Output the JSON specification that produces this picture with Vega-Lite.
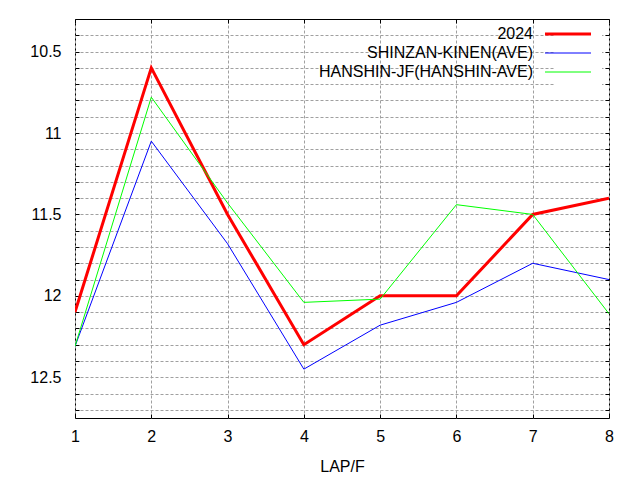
{
  "$schema": "https://vega.github.io/schema/vega-lite/v6.json",
  "width": 534,
  "height": 399,
  "autosize": {"type": "none"},
  "padding": {"left": 75, "top": 19, "right": 31, "bottom": 62},
  "background": "white",
  "config": {
    "view": {"stroke": "black", "strokeWidth": 1},
    "font": "Liberation Sans",
    "axis": {
      "domain": false,
      "labelFont": "Liberation Sans",
      "labelFontSize": 16,
      "labelColor": "black",
      "titleFont": "Liberation Sans",
      "titleFontSize": 16,
      "titleFontWeight": "normal",
      "titleColor": "black",
      "tickColor": "black",
      "tickSize": -4,
      "gridColor": "#a0a0a0",
      "gridDash": [3, 2],
      "gridWidth": 1
    },
    "legend": {
      "title": null,
      "orient": "none",
      "legendX": 480,
      "legendY": 2,
      "symbolType": "M-5,0H5",
      "symbolSize": 84.64,
      "labelAlign": "right",
      "labelOffset": -43,
      "labelFontSize": 16,
      "labelFont": "Liberation Sans",
      "labelColor": "black",
      "labelLimit": 400,
      "rowPadding": 3,
      "padding": 5,
      "fillColor": "white",
      "strokeColor": null
    }
  },
  "data": {
    "values": [
      {"lap": 1, "time": 12.1, "series": "2024"},
      {"lap": 2, "time": 10.6, "series": "2024"},
      {"lap": 3, "time": 11.5, "series": "2024"},
      {"lap": 4, "time": 12.3, "series": "2024"},
      {"lap": 5, "time": 12.0, "series": "2024"},
      {"lap": 6, "time": 12.0, "series": "2024"},
      {"lap": 7, "time": 11.5, "series": "2024"},
      {"lap": 8, "time": 11.4, "series": "2024"},
      {"lap": 1, "time": 12.31, "series": "SHINZAN-KINEN(AVE)"},
      {"lap": 2, "time": 11.05, "series": "SHINZAN-KINEN(AVE)"},
      {"lap": 3, "time": 11.68, "series": "SHINZAN-KINEN(AVE)"},
      {"lap": 4, "time": 12.45, "series": "SHINZAN-KINEN(AVE)"},
      {"lap": 5, "time": 12.18, "series": "SHINZAN-KINEN(AVE)"},
      {"lap": 6, "time": 12.04, "series": "SHINZAN-KINEN(AVE)"},
      {"lap": 7, "time": 11.8, "series": "SHINZAN-KINEN(AVE)"},
      {"lap": 8, "time": 11.9, "series": "SHINZAN-KINEN(AVE)"},
      {"lap": 1, "time": 12.31, "series": "HANSHIN-JF(HANSHIN-AVE)"},
      {"lap": 2, "time": 10.78, "series": "HANSHIN-JF(HANSHIN-AVE)"},
      {"lap": 3, "time": 11.43, "series": "HANSHIN-JF(HANSHIN-AVE)"},
      {"lap": 4, "time": 12.04, "series": "HANSHIN-JF(HANSHIN-AVE)"},
      {"lap": 5, "time": 12.02, "series": "HANSHIN-JF(HANSHIN-AVE)"},
      {"lap": 6, "time": 11.44, "series": "HANSHIN-JF(HANSHIN-AVE)"},
      {"lap": 7, "time": 11.5, "series": "HANSHIN-JF(HANSHIN-AVE)"},
      {"lap": 8, "time": 12.11, "series": "HANSHIN-JF(HANSHIN-AVE)"}
    ]
  },
  "resolve": {"axis": {"x": "independent", "y": "independent"}},
  "layer": [
    {
      "mark": {"type": "line", "clip": true},
      "encoding": {
        "x": {
          "field": "lap", "type": "quantitative",
          "scale": {"domain": [1, 8], "nice": false, "zero": false},
          "axis": {
            "orient": "bottom",
            "title": "LAP/F",
            "values": [1, 2, 3, 4, 5, 6, 7, 8],
            "format": "d",
            "grid": true,
            "labelPadding": 14,
            "titlePadding": 14,
            "labelFlush": false
          }
        },
        "y": {
          "field": "time", "type": "quantitative",
          "scale": {"domain": [10.3, 12.75], "nice": false, "zero": false, "reverse": true},
          "axis": {
            "orient": "left",
            "title": null,
            "values": [10.4, 10.5, 10.6, 10.7, 10.8, 10.9, 11, 11.1, 11.2, 11.3, 11.4, 11.5, 11.6, 11.7, 11.8, 11.9, 12, 12.1, 12.2, 12.3, 12.4, 12.5, 12.6, 12.7],
            "labelExpr": "round(datum.value*10) % 5 == 0 ? '' + datum.value : ''",
            "grid": true,
            "labelPadding": 18,
            "labelFlush": false
          }
        },
        "color": {
          "field": "series", "type": "nominal",
          "scale": {
            "domain": ["2024", "SHINZAN-KINEN(AVE)", "HANSHIN-JF(HANSHIN-AVE)"],
            "range": ["#ff0000", "#0000ff", "#00ff00"]
          },
          "legend": {}
        },
        "strokeWidth": {
          "field": "series", "type": "nominal",
          "scale": {
            "type": "ordinal",
            "domain": ["2024", "SHINZAN-KINEN(AVE)", "HANSHIN-JF(HANSHIN-AVE)"],
            "range": [3, 1, 1]
          },
          "legend": {}
        }
      }
    },
    {
      "mark": {"type": "point", "opacity": 0},
      "encoding": {
        "x": {
          "field": "lap", "type": "quantitative",
          "axis": {"orient": "top", "title": null, "labels": false, "grid": false, "values": [1, 2, 3, 4, 5, 6, 7, 8]}
        },
        "y": {
          "field": "time", "type": "quantitative",
          "axis": {"orient": "right", "title": null, "labels": false, "grid": false,
            "values": [10.4, 10.5, 10.6, 10.7, 10.8, 10.9, 11, 11.1, 11.2, 11.3, 11.4, 11.5, 11.6, 11.7, 11.8, 11.9, 12, 12.1, 12.2, 12.3, 12.4, 12.5, 12.6, 12.7]}
        }
      }
    }
  ]
}
